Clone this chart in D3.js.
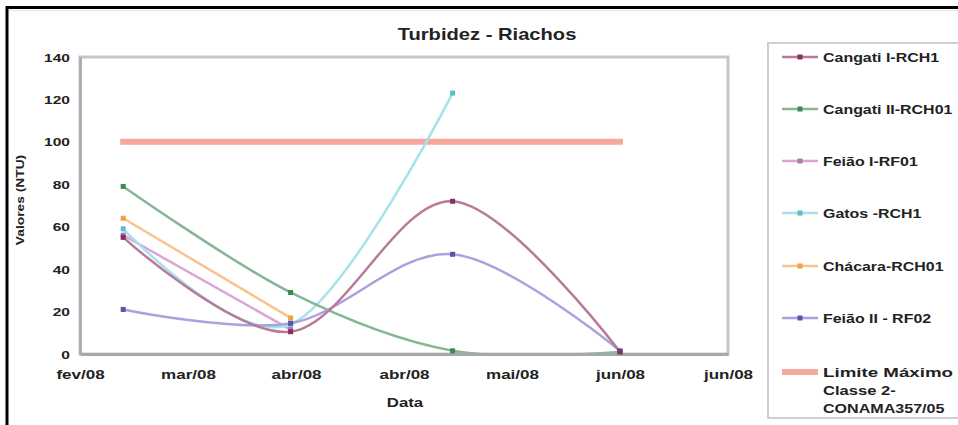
<!DOCTYPE html>
<html>
<head>
<meta charset="utf-8">
<script src="https://cdn.jsdelivr.net/npm/d3@7"></script>
<style>
  html, body { margin: 0; padding: 0; background: #fff; }
  svg { display: block; font-family: "Liberation Sans", Arial, sans-serif; }
</style>
</head>
<body>
<svg id="chart" width="958" height="425"></svg>
<script>
// ---------------- DATA ----------------
const monthNames = ["jan","fev","mar","abr","mai","jun","jul","ago","set","out","nov","dez"];
const sampleDates = ["2008-03-04", "2008-04-04", "2008-05-04", "2008-06-04"];
const axisStartDate = "2008-02-25";
const axisEndDate = "2008-06-24";
const xTickStepDays = 20;
const yTicks = [0, 20, 40, 60, 80, 100, 120, 140];

const seriesNames = [
  "Cangati I-RCH1",
  "Cangati II-RCH01",
  "Feião I-RF01",
  "Gatos -RCH1",
  "Chácara-RCH01",
  "Feião II - RF02",
  "Limite Máximo Classe 2- CONAMA357/05"
];
const cangatiI  = [55, 10.5, 72, 1];
const cangatiII = [79, 29, 1.5, 1];
const feiaoI    = [56, 11.5, null, null];
const gatos     = [59, 14, 123, null];
const chacara   = [64, 17, null, null];
const feiaoII   = [21, 14.5, 47, 1.5];
const limite    = [100, 100, 100, 100];

const lineColors   = ["#b87a98", "#86b696", "#dca6d4", "#a6e2ea", "#f8c48e", "#a8a2de", "#f6a89c"];
const markerColors = ["#7e3262", "#3a8a4e", "#b472b4", "#5cbccb", "#f0a040", "#5656a6", null];

// ---------------- SETUP ----------------
const svg = d3.select("#chart");
const W = 958, H = 425;
const plot = { left: 80, top: 57, right: 728, bottom: 354 };

const parse = d3.utcParse("%Y-%m-%d");
const x = d3.scaleUtc()
  .domain([parse(axisStartDate), parse(axisEndDate)])
  .range([plot.left, plot.right]);
const y = d3.scaleLinear().domain([0, 140]).range([plot.bottom, plot.top]);

function stretchedText(g, txt, px, py, opts) {
  const sx = opts.sx || 1;
  const t = g.append("text")
    .attr("transform", `translate(${px},${py})` + (opts.rotate ? ` rotate(${opts.rotate})` : "") + ` scale(${sx},1)`)
    .attr("text-anchor", opts.anchor || "start")
    .attr("font-size", opts.size || 12)
    .attr("font-weight", "bold")
    .attr("fill", opts.fill || "#222")
    .text(txt);
  return t;
}

// background
svg.append("rect").attr("width", W).attr("height", H).attr("fill", "#fff");

// outer frame (only top and left visible)
svg.append("line").attr("x1", 7).attr("x2", W).attr("y1", 7.5).attr("y2", 7.5)
  .attr("stroke", "#000").attr("stroke-width", 3);
svg.append("line").attr("x1", 7).attr("x2", 7).attr("y1", 6).attr("y2", H)
  .attr("stroke", "#000").attr("stroke-width", 3);
svg.append("line").attr("x1", 9).attr("x2", W).attr("y1", 10.5).attr("y2", 10.5)
  .attr("stroke", "#e4e4e4").attr("stroke-width", 1);

// title
stretchedText(svg, "Turbidez - Riachos", 487, 40, { anchor: "middle", size: 16, sx: 1.26 });

// plot frame
svg.append("rect")
  .attr("x", plot.left).attr("y", plot.top)
  .attr("width", plot.right - plot.left).attr("height", plot.bottom - plot.top)
  .attr("fill", "#fff").attr("stroke", "#c6c6c6").attr("stroke-width", 3);

// axes
const yAxis = d3.axisLeft(y).tickValues(yTicks).tickSize(0).tickFormat(d3.format("d"));
const gy = svg.append("g").attr("transform", `translate(${plot.left},0)`).call(yAxis);
gy.select(".domain").attr("stroke", "#a8a8a8").attr("stroke-width", 2.5);
gy.selectAll(".tick text").remove();
gy.selectAll(".tick").each(function(d) {
  stretchedText(d3.select(this), d3.format("d")(d), -10, 4, { anchor: "end", size: 11.5, sx: 1.35 });
});

const xTickValues = d3.range(7).map(i => d3.utcDay.offset(parse(axisStartDate), i * xTickStepDays));
const fmtX = d => monthNames[d.getUTCMonth()] + "/" + String(d.getUTCFullYear()).slice(2);
const xAxis = d3.axisBottom(x).tickValues(xTickValues).tickSize(0).tickFormat(fmtX);
const gx = svg.append("g").attr("transform", `translate(0,${plot.bottom})`).call(xAxis);
gx.select(".domain").attr("stroke", "#a8a8a8").attr("stroke-width", 3);
gx.selectAll(".tick text").remove();
gx.selectAll(".tick").each(function(d) {
  stretchedText(d3.select(this), fmtX(d), 0, 25, { anchor: "middle", size: 12, sx: 1.42 });
});

// axis titles
stretchedText(svg, "Data", 405, 407, { anchor: "middle", size: 12, sx: 1.4 });
stretchedText(svg, "Valores (NTU)", 24, 200, { anchor: "middle", size: 11.5, sx: 1.2, rotate: -90 });

// clip
svg.append("defs").append("clipPath").attr("id", "clip")
  .append("rect").attr("x", plot.left).attr("y", plot.top - 2)
  .attr("width", plot.right - plot.left).attr("height", plot.bottom - plot.top + 1);

const dates = sampleDates.map(parse);
const allSeries = [cangatiI, cangatiII, feiaoI, gatos, chacara, feiaoII];
const drawOrder = [2, 4, 3, 1, 5, 0];

const gLines = svg.append("g").attr("clip-path", "url(#clip)");

// limit line
const limLine = d3.line().x((d, i) => x(dates[i])).y(d => y(d));
gLines.append("path").datum(limite)
  .attr("d", limLine).attr("fill", "none")
  .attr("stroke", lineColors[6]).attr("stroke-width", 6).attr("stroke-linecap", "square");

const line = d3.line()
  .defined(d => d.v != null)
  .x(d => x(d.date)).y(d => y(d.v))
  .curve(d3.curveCardinal.tension(0));

drawOrder.forEach(si => {
  const pts = allSeries[si].map((v, i) => ({ date: dates[i], v }));
  gLines.append("path").datum(pts)
    .attr("d", line).attr("fill", "none")
    .attr("stroke", lineColors[si]).attr("stroke-width", 2.5);
});
drawOrder.forEach(si => {
  const pts = allSeries[si].map((v, i) => ({ date: dates[i], v })).filter(d => d.v != null);
  svg.append("g").selectAll("rect").data(pts).join("rect")
    .attr("x", d => x(d.date) - 2.5).attr("y", d => y(d.v) - 2.5)
    .attr("width", 5).attr("height", 5)
    .attr("fill", markerColors[si]);
});

// legend
const leg = svg.append("g");
leg.append("rect").attr("x", 768).attr("y", 43).attr("width", 200).attr("height", 375)
  .attr("fill", "#fff").attr("stroke", "#cfcfcf").attr("stroke-width", 2);
const legY = [57, 109, 161, 213, 266, 318, 372];
seriesNames.forEach((name, i) => {
  const ly = legY[i];
  if (i < 6) {
    leg.append("line").attr("x1", 782).attr("x2", 818).attr("y1", ly).attr("y2", ly)
      .attr("stroke", lineColors[i]).attr("stroke-width", 2.5);
    leg.append("rect").attr("x", 797.5).attr("y", ly - 2.5).attr("width", 5).attr("height", 5)
      .attr("fill", markerColors[i]);
    stretchedText(leg, name, 823, ly + 4.5, { size: 12, sx: 1.33 });
  } else {
    leg.append("line").attr("x1", 782).attr("x2", 818).attr("y1", ly).attr("y2", ly)
      .attr("stroke", lineColors[i]).attr("stroke-width", 6);
    const parts = ["Limite  Máximo", "Classe 2-", "CONAMA357/05"];
    const sxs = [1.56, 1.38, 1.34];
    parts.forEach((p, k) => {
      stretchedText(leg, p, 823, ly + 4.5 + k * 18, { size: 12, sx: sxs[k] });
    });
  }
});
</script>
</body>
</html>
